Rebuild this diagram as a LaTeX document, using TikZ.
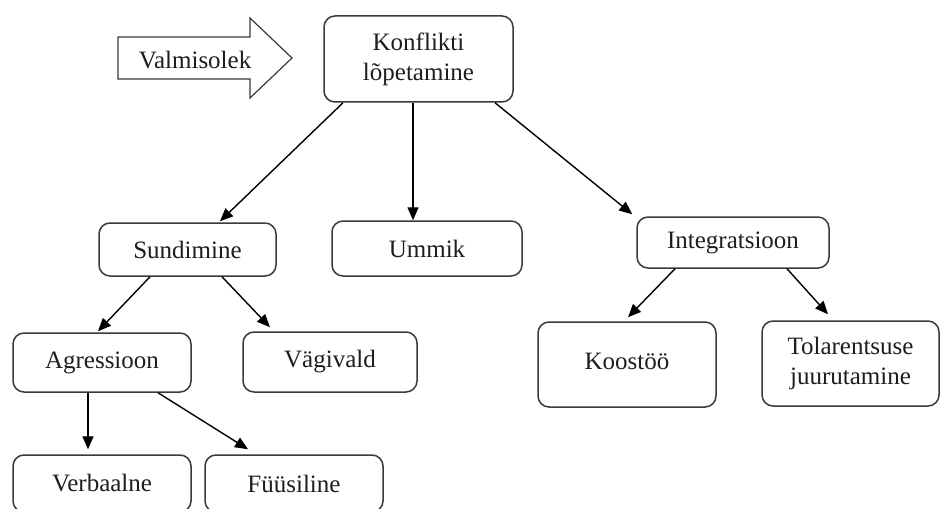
\documentclass[tikz,border=0pt]{standalone}
\usepackage{fontspec}
\setmainfont{Liberation Serif}
\usetikzlibrary{arrows.meta,calc}
\definecolor{boxgray}{HTML}{3A3A3A}
\definecolor{txt}{HTML}{1E1E1E}
\begin{document}
\begin{tikzpicture}[x=1pt,y=-1pt,
  box/.style={draw=boxgray, line width=1.5pt, rounded corners=11pt, inner sep=0pt,
    align=center, font=\fontsize{25}{30}\selectfont, text=txt},
  link/.style={line width=1.4pt, draw=black, -{Triangle[length=13pt,width=11pt]}},
  lbl/.style={inner sep=0pt, font=\fontsize{25}{30}\selectfont, text=txt},
]
\useasboundingbox (0,0) rectangle (941,508);
\clip (0,0) rectangle (941,508);
\fill[white] (0,0) rectangle (941,508);

% block arrow on the left
\draw[line width=1.2pt, draw=boxgray, fill=white]
  (118,37) -- (250,37) -- (250,18) -- (292,58) -- (250,98) -- (250,79) -- (118,79) -- cycle;
\node[lbl] (valm) at (195,60) {Valmisolek};

% boxes
\node[box, minimum width=189pt, minimum height=86pt] (konf) at (418.5,59) {Konflikti\\lõpetamine};
\node[box, minimum width=177pt, minimum height=53pt] (sund) at (187.5,249.5) {Sundimine};
\node[box, minimum width=190pt, minimum height=55pt] (ummik) at (427,248.5) {Ummik};
\node[box, minimum width=192pt, minimum height=51pt] (integ) at (733,242.5) {Integratsioon};
\node[box, minimum width=178pt, minimum height=59pt] (agr) at (102,362.5) {Agressioon};
\node[box, minimum width=174pt, minimum height=60pt] (vag) at (330,362) {Vägivald};
\node[box, minimum width=178pt, minimum height=85pt] (koos) at (627,364.5) {\raisebox{7pt}{Koostöö}};
\node[box, minimum width=177pt, minimum height=85pt] (tol) at (850.5,363.5) {Tolarentsuse\\juurutamine};
\node[box, minimum width=178pt, minimum height=57pt] (verb) at (102,483.5) {Verbaalne};
\node[box, minimum width=178pt, minimum height=57pt] (fuus) at (294,483.5) {Füüsiline};

% connectors
\draw[link] ($(konf.south)+(-75.5,0)$) -- ($(sund.north)+(32.5,-1)$);
\draw[link] ($(konf.south)+(-5.5,0)$) -- ($(ummik.north)+(-14,0)$);
\draw[link] ($(konf.south)+(76.5,0)$) -- ($(integ.north west)+(-4,-2)$);
\draw[link] ($(sund.south)+(-37.5,0)$) -- ($(agr.north)+(-4,-1)$);
\draw[link] ($(sund.south)+(34.5,0)$) -- ($(vag.north)+(-60,-4)$);
\draw[link] ($(integ.south)+(-58,0)$) -- ($(koos.north)+(1,-4)$);
\draw[link] ($(integ.south)+(54,0)$) -- ($(tol.north)+(-22.5,-6)$);
\draw[link] ($(agr.south)+(-14,0)$) -- ($(verb.north)+(-14,-5)$);
\draw[link] ($(agr.south)+(56,0)$) -- ($(fuus.north)+(-46,-5)$);
\end{tikzpicture}
\end{document}
